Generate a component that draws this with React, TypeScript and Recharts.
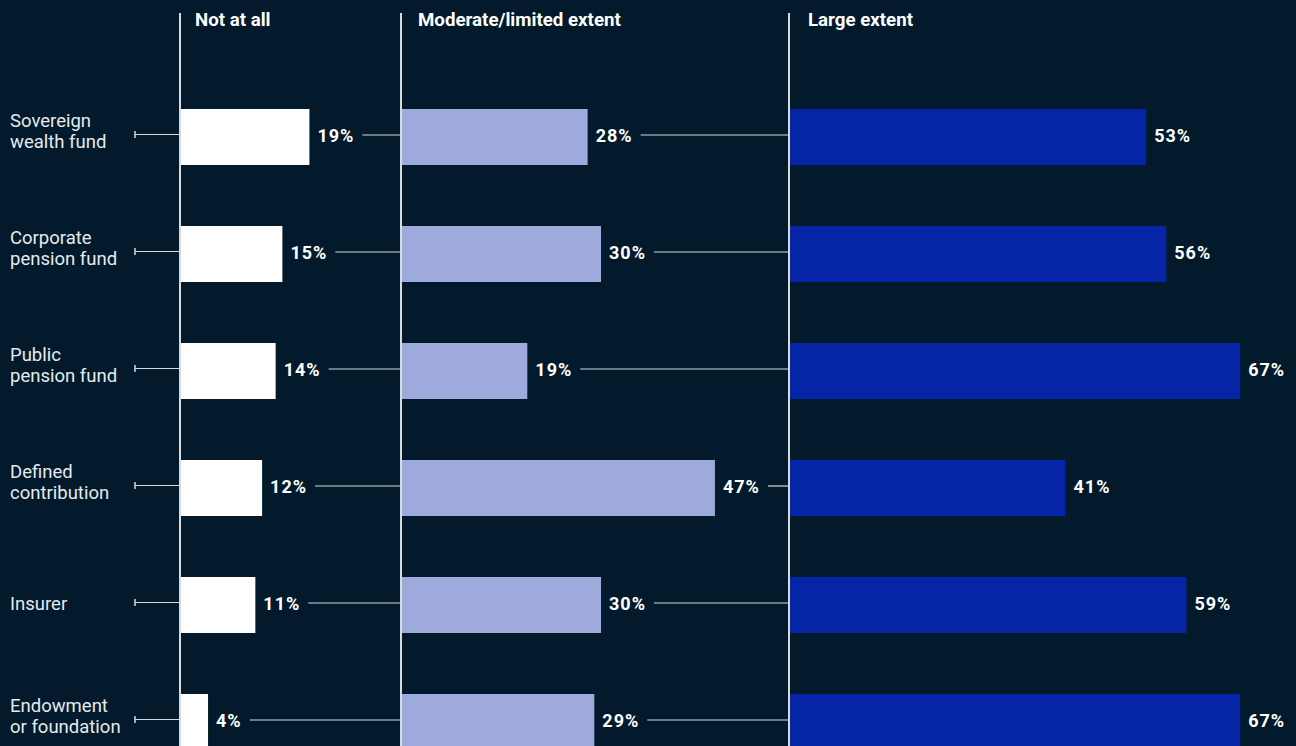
import React from 'react'
import { BarChart, Bar, XAxis, YAxis, LabelList } from 'recharts'

const categories = [
  'Sovereign\nwealth fund',
  'Corporate\npension fund',
  'Public\npension fund',
  'Defined\ncontribution',
  'Insurer',
  'Endowment\nor foundation',
]
const notAtAll = [19, 15, 14, 12, 11, 4]
const moderate = [28, 30, 19, 47, 30, 29]
const large = [53, 56, 67, 41, 59, 67]
const panelTitles = ['Not at all', 'Moderate/limited extent', 'Large extent']

const BG = '#021a2b'
const LINE = '#d6dadd'
const FONT = 'Roboto, "Noto Sans", sans-serif'
const CHART_H = 800
const MARGIN = { top: 78, right: 0, bottom: 20, left: 0 }
const VALUE_SIZE = 18
const LINE_SHIFT = -2

const data = categories.map((name, i) => ({
  name,
  notAtAll: notAtAll[i],
  moderate: moderate[i],
  large: large[i],
}))

const panels = [
  { key: 'notAtAll', title: panelTitles[0], left: 0, width: 400, axisWidth: 181, max: 32.4, color: '#ffffff', connect: true, lineX: 180, titleGap: 15 },
  { key: 'moderate', title: panelTitles[1], left: 400, width: 390, axisWidth: 0, max: 58.2, color: '#9ea9dc', connect: true, lineX: 401, titleGap: 17 },
  { key: 'large', title: panelTitles[2], left: 790, width: 506, axisWidth: 0, max: 75.3, color: '#0524a6', connect: false, lineX: 789, titleGap: 19 },
]

let ctx: CanvasRenderingContext2D | null = null
function measure(s: string) {
  if (!ctx) ctx = document.createElement('canvas').getContext('2d')
  if (!ctx) return s.length * 12
  ctx.font = `700 ${VALUE_SIZE}px ${FONT}`
  return ctx.measureText(s).width + s.length * 1
}

function CategoryTick(props: any) {
  const { y, payload } = props
  const lines = String(payload.value).split('\n')
  const lh = 21
  const ly = y + LINE_SHIFT
  const lift = lines.length > 1 ? 3 : -1
  const start = ly - lift - ((lines.length - 1) * lh) / 2
  return (
    <g>
      <text x={10} y={start} fill="#e6eaee" fontSize={18.5} fontFamily={FONT} dominantBaseline="central">
        {lines.map((l, i) => (
          <tspan key={i} x={10} y={start + i * lh}>{l}</tspan>
        ))}
      </text>
      <line x1={135} x2={181} y1={ly} y2={ly} stroke={LINE} strokeWidth={1.2} />
      <line x1={135} x2={135} y1={ly - 3.5} y2={ly + 3.5} stroke={LINE} strokeWidth={1.5} />
    </g>
  )
}

function makeLabel(panelWidth: number, connect: boolean) {
  return (props: any) => {
    const { x, y, width, height, value } = props
    const label = `${value}%`
    const tx = Number(x) + Number(width) + 8
    const cy = Number(y) + Number(height) / 2 + LINE_SHIFT
    const tw = measure(label)
    return (
      <g>
        <text x={tx} y={cy} fill="#ffffff" fontSize={VALUE_SIZE} fontWeight={700} fontFamily={FONT} letterSpacing={1} dominantBaseline="central">
          {label}
        </text>
        {connect && (
          <line x1={tx + tw + 8} x2={panelWidth} y1={cy} y2={cy} stroke={LINE} strokeWidth={1.2} />
        )}
      </g>
    )
  }
}

export default function App() {
  return (
    <div style={{ position: 'absolute', top: 0, left: 0, width: 1296, height: 746, overflow: 'hidden', background: BG, fontFamily: FONT }}>
      {panels.map((p) => (
        <div key={p.key} style={{ position: 'absolute', left: p.left, top: 0, width: p.width, height: CHART_H }}>
          <BarChart width={p.width} height={CHART_H} data={data} layout="vertical" margin={MARGIN}>
            <XAxis type="number" domain={[0, p.max]} hide />
            <YAxis
              type="category"
              dataKey="name"
              width={p.axisWidth}
              hide={p.axisWidth === 0}
              axisLine={false}
              tickLine={false}
              tick={<CategoryTick />}
              interval={0}
            />
            <Bar dataKey={p.key} fill={p.color} barSize={56} isAnimationActive={false}>
              <LabelList dataKey={p.key} content={makeLabel(p.width, p.connect)} />
            </Bar>
          </BarChart>
        </div>
      ))}
      {panels.map((p) => (
        <React.Fragment key={p.key + '-frame'}>
          <div style={{ position: 'absolute', left: p.lineX - 1, top: 13, width: 2, height: 746, background: LINE }} />
          <div style={{ position: 'absolute', left: p.lineX + p.titleGap, top: 8, color: '#ffffff', fontSize: 18.7, fontWeight: 700, lineHeight: '24px', whiteSpace: 'nowrap' }}>
            {p.title}
          </div>
        </React.Fragment>
      ))}
    </div>
  )
}
